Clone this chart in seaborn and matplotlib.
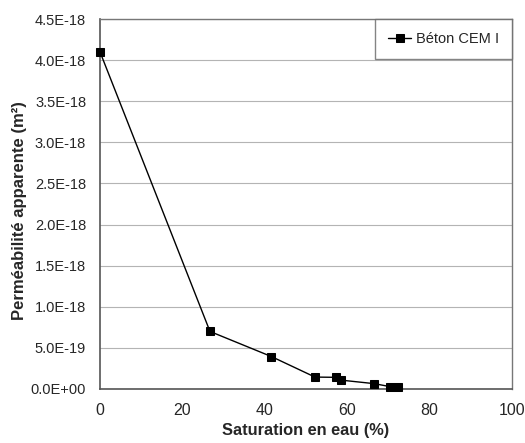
import pandas as pd
import matplotlib
matplotlib.use("Agg")
import matplotlib.pyplot as plt
import seaborn as sns
from matplotlib.ticker import FuncFormatter

# Data
saturation = [0, 26.7, 41.6, 52.2, 57.3, 58.5, 66.6, 70.3, 72.4]
permeability = [4.10e-18, 7.0e-19, 3.95e-19, 1.45e-19, 1.42e-19, 1.08e-19, 6.5e-20, 3.0e-20, 2.8e-20]
series_name = "Béton CEM I"

df = pd.DataFrame({"Saturation en eau (%)": saturation,
                   "perm": permeability,
                   "serie": series_name})

sns.set_style("white")
plt.rcParams['font.family'] = ['Liberation Sans', 'DejaVu Sans']

fig = plt.figure(figsize=(5.25, 4.43), dpi=100)
ax = fig.add_axes([0.1905, 0.1219, 0.7845, 0.8351])

sns.lineplot(data=df, x="Saturation en eau (%)", y="perm", hue="serie",
             palette=["black"], marker="s", markersize=6, linewidth=1.0,
             markeredgecolor="black", ax=ax, clip_on=False, zorder=5)

ax.set_xlim(0, 100)
ax.set_ylim(0, 4.5e-18)
ax.set_xticks([0, 20, 40, 60, 80, 100])
ax.set_yticks([i * 0.5e-18 for i in range(10)])
ax.yaxis.set_major_formatter(FuncFormatter(lambda v, p: f"{v:.1E}"))
ax.yaxis.get_offset_text().set_visible(False)

ax.grid(axis='y', color='#b4b4b4', linewidth=0.8)
ax.set_axisbelow(True)
ax.tick_params(axis='x', direction='in', length=4, labelsize=11.5, pad=10, color='#666666')
ax.tick_params(axis='y', direction='in', length=0, labelsize=10.5, pad=10)
for side in ['left', 'bottom']:
    ax.spines[side].set_color('#555555')
    ax.spines[side].set_linewidth(1.2)
for side in ['top', 'right']:
    ax.spines[side].set_color('#777777')
    ax.spines[side].set_linewidth(1.0)

ax.set_xlabel("Saturation en eau (%)", fontsize=11.8, fontweight='bold', labelpad=4)
ax.set_ylabel("Perméabilité apparente (m²)", fontsize=12, fontweight='bold')
ax.yaxis.set_label_coords(-0.178, 0.481)

leg = ax.legend(loc='upper right', borderaxespad=0, fancybox=False, fontsize=10.5,
                handlelength=1.6, handletextpad=0.3, borderpad=0.9)
leg.get_frame().set_edgecolor('#666666')
leg.get_frame().set_linewidth(1.0)

fig.savefig("out.png", dpi=100)
